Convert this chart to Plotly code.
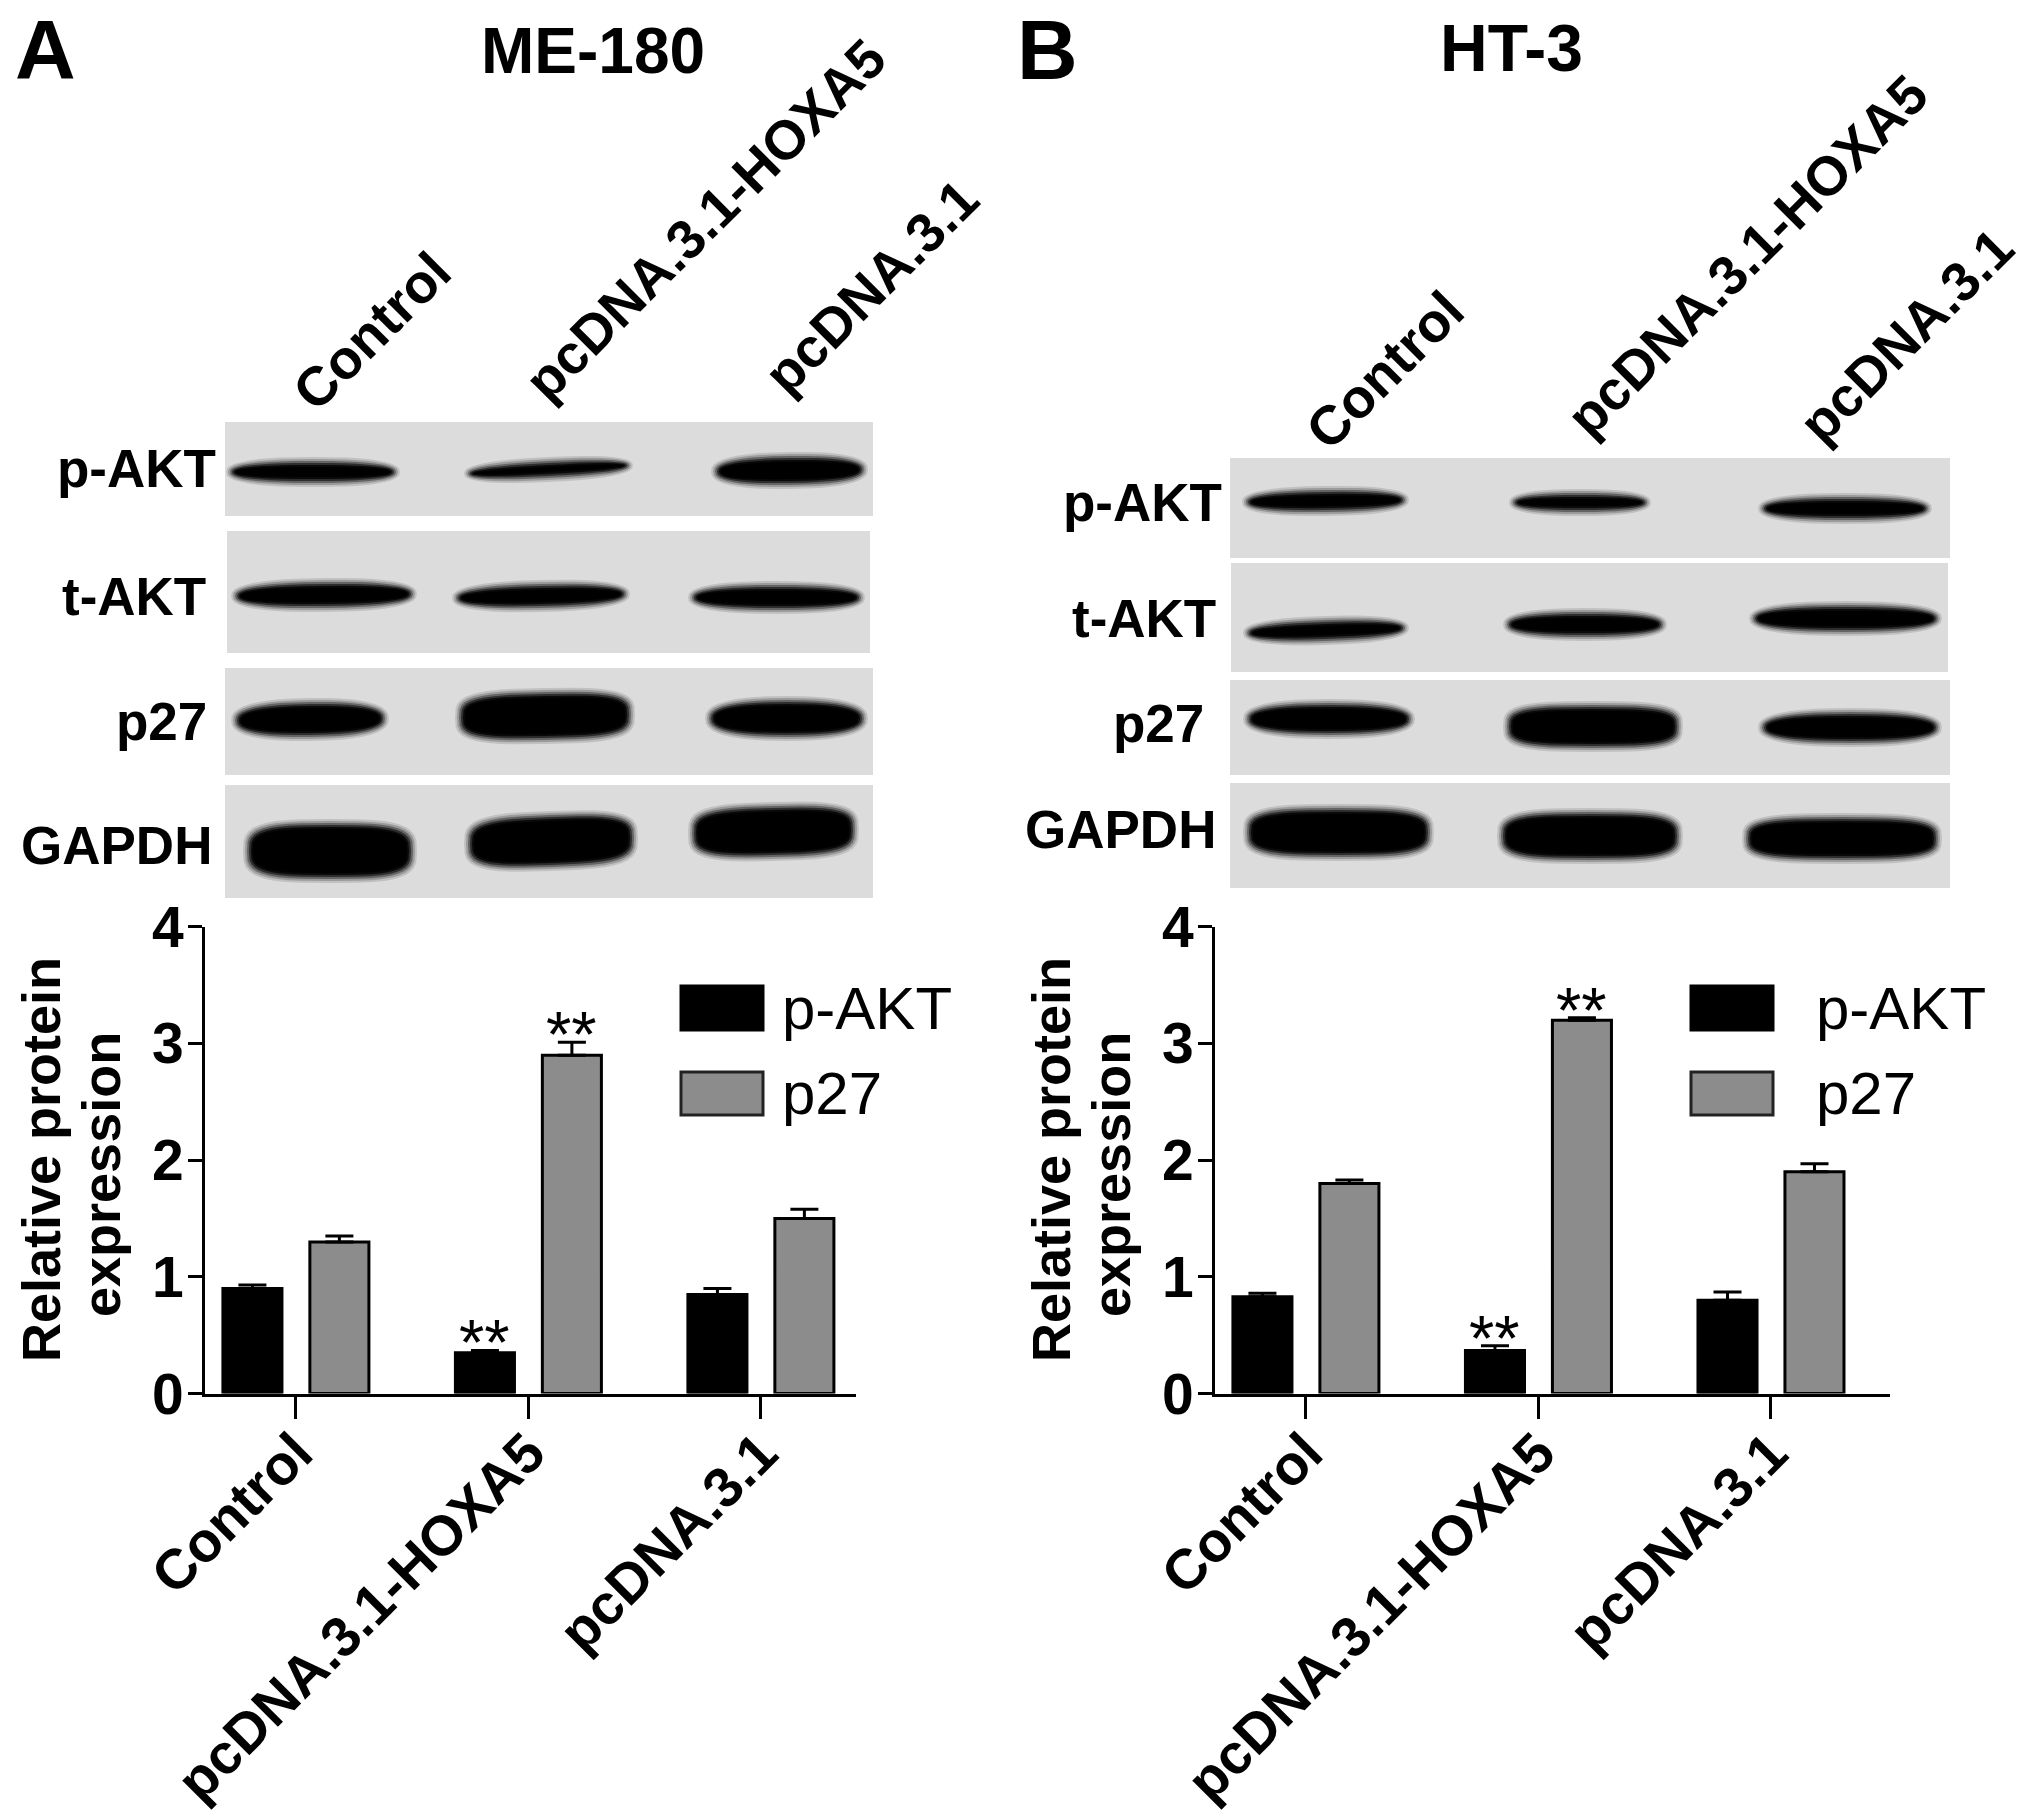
"""Western blots and relative protein expression bars for ME-180 and HT-3."""

import numpy as np
import plotly.graph_objects as go

WIDTH = 2031
HEIGHT = 1818
FONT = "Liberation Sans"

CATEGORIES = ["Control", "pcDNA.3.1-HOXA5", "pcDNA.3.1"]
Y_TICKS = [0, 1, 2, 3, 4]
SERIES = ["p-AKT", "p27"]
BLOT_ROWS = ["p-AKT", "t-AKT", "p27", "GAPDH"]

PAKT_A = [0.90, 0.35, 0.85]
PAKT_A_ERR = [0.03, 0.02, 0.05]
P27_A = [1.30, 2.90, 1.50]
P27_A_ERR = [0.05, 0.11, 0.08]

PAKT_B = [0.83, 0.37, 0.80]
PAKT_B_ERR = [0.03, 0.04, 0.07]
P27_B = [1.80, 3.20, 1.90]
P27_B_ERR = [0.03, 0.02, 0.07]

BLACK = "#000000"
GRAY = "#8c8c8c"
BLOT_BG = "#dcdcdc"

# blot artwork, in page pixels: membrane boxes and bands (x0, x1, y0, y1, tilt)
BOXES_A = [(225, 873, 422, 516), (227, 870, 531, 653), (225, 873, 668, 775), (225, 873, 785, 898)]
BOXES_B = [(1230, 1950, 458, 558), (1231, 1948, 563, 672), (1230, 1950, 680, 775), (1230, 1950, 783, 888)]
BANDS_A = [
    [(230, 396, 461, 483, 0), (468, 629, 461, 478, -8), (715, 864, 456, 485, -2)],
    [(235, 413, 582, 608, -2), (456, 626, 584, 608, -4), (692, 861, 585, 610, 0)],
    [(235, 385, 702, 737, -2), (459, 631, 692, 740, -3), (709, 864, 700, 737, 0)],
    [(247, 413, 823, 879, 0), (468, 634, 815, 867, -6), (692, 855, 806, 857, -4)],
]
BANDS_B = [
    [(1246, 1405, 490, 512, -2), (1513, 1647, 493, 512, 0), (1762, 1928, 497, 520, 0)],
    [(1247, 1405, 620, 641, -5), (1507, 1663, 612, 637, 0), (1753, 1938, 605, 632, 0)],
    [(1247, 1411, 703, 735, 0), (1507, 1679, 705, 748, 0), (1762, 1938, 712, 743, 0)],
    [(1247, 1430, 808, 857, 0), (1501, 1679, 812, 860, 0), (1746, 1938, 817, 860, 0)],
]


def px(x):
    return x / WIDTH


def py(y):
    return 1 - y / HEIGHT


def band_path(x0, x1, y0, y1, tilt, power):
    """Rounded lens outline as an SVG path in paper coordinates."""

    t = np.linspace(0, 2 * np.pi, 40, endpoint=False)
    cx, cy = (x0 + x1) / 2, (y0 + y1) / 2
    rx, ry = (x1 - x0) / 2, (y1 - y0) / 2
    u = np.sign(np.cos(t)) * np.abs(np.cos(t)) ** (2 / power)
    v = np.sign(np.sin(t)) * np.abs(np.sin(t)) ** (2 / power)
    xs = cx + rx * u
    ys = cy + ry * v + tilt * u / 2
    points = [f"{px(a):.5f},{py(b):.5f}" for a, b in zip(xs, ys)]
    return "M" + "L".join(points) + "Z"


def add_blot(fig, boxes, bands):
    for box in boxes:
        fig.add_shape(
            type="rect", xref="paper", yref="paper", layer="below",
            x0=px(box[0]), x1=px(box[1]), y0=py(box[3]), y1=py(box[2]),
            fillcolor=BLOT_BG, line=dict(width=0),
        )
    # stacked translucent outlines give the soft edge of a film band
    for row in bands:
        for x0, x1, y0, y1, tilt in row:
            power = 3.4 if y1 - y0 > 40 else 2.5
            for grow, alpha in [(4, 0.12), (2, 0.2), (0, 0.35), (-2, 0.55), (-4, 0.8), (-6, 1)]:
                fig.add_shape(
                    type="path", xref="paper", yref="paper", layer="below",
                    path=band_path(x0 - grow, x1 + grow, y0 - grow, y1 + grow, tilt, power),
                    fillcolor=f"rgba(0,0,0,{alpha})", line=dict(width=0),
                )


def add_text(fig, text, x, y, size, bold=True, xanchor="center", angle=0):
    fig.add_annotation(
        text=text, x=px(x), y=py(y), xref="paper", yref="paper", showarrow=False,
        xanchor=xanchor, yanchor="middle", textangle=angle,
        font=dict(family=FONT, size=size, color="black", weight=700 if bold else 400),
    )


def add_bars(fig, xaxis, yaxis, pakt, pakt_err, p27, p27_err):
    for name, values, errors, color in [(SERIES[0], pakt, pakt_err, BLACK), (SERIES[1], p27, p27_err, GRAY)]:
        fig.add_bar(
            name=name, x=CATEGORIES, y=values, xaxis=xaxis, yaxis=yaxis, showlegend=False,
            marker=dict(color=color, line=dict(color="black", width=3)),
            error_y=dict(type="data", array=errors, arrayminus=[0, 0, 0], symmetric=False, color="black", thickness=3, width=14),
        )


def add_stars(fig, xref, yref, top_pakt, top_p27):
    for offset, top in [(-0.187, top_pakt), (0.187, top_p27)]:
        fig.add_annotation(
            text="**", x=1 + offset, y=top, xref=xref, yref=yref, showarrow=False,
            yanchor="bottom", yshift=-31, font=dict(family=FONT, size=65, color="black"),
        )


def add_legend(fig, x0, x1, text_x):
    for name, y0, y1, color, line in [(SERIES[0], 986, 1030, BLACK, BLACK), (SERIES[1], 1072, 1115, GRAY, "#222222")]:
        fig.add_shape(
            type="rect", xref="paper", yref="paper", x0=px(x0), x1=px(x1), y0=py(y1), y1=py(y0),
            fillcolor=color, line=dict(color=line, width=3),
        )
        add_text(fig, name, text_x, (y0 + y1) / 2, 60, bold=False, xanchor="left")


def axis_styles(x_left, x_right):
    x_style = dict(
        domain=[px(x_left), px(x_right)], type="category", automargin=False,
        categoryorder="array", categoryarray=CATEGORIES, showline=True, linecolor="black", linewidth=3,
        ticks="outside", ticklen=22, tickwidth=3, tickcolor="black", tickangle=-45, ticklabelstandoff=-21,
        tickfont=dict(family=FONT, size=56, color="black", weight=700), showgrid=False, zeroline=False,
    )
    y_style = dict(
        domain=[py(1393.6), py(926.8)], range=[0, 4], tickvals=Y_TICKS, showline=True, linecolor="black",
        automargin=False, linewidth=3, ticks="outside", ticklen=14, tickwidth=3, tickcolor="black",
        ticklabelstandoff=-7, tickfont=dict(family=FONT, size=57, color="black", weight=700),
        showgrid=False, zeroline=False,
    )
    return x_style, y_style


fig = go.Figure()

add_blot(fig, BOXES_A, BANDS_A)
add_blot(fig, BOXES_B, BANDS_B)

add_bars(fig, "x", "y", PAKT_A, PAKT_A_ERR, P27_A, P27_A_ERR)
add_bars(fig, "x2", "y2", PAKT_B, PAKT_B_ERR, P27_B, P27_B_ERR)

add_stars(fig, "x", "y", PAKT_A[1] + PAKT_A_ERR[1], P27_A[1] + P27_A_ERR[1])
add_stars(fig, "x2", "y2", PAKT_B[1] + PAKT_B_ERR[1], P27_B[1] + P27_B_ERR[1])

add_legend(fig, 681, 763, 780)
add_legend(fig, 1691, 1773, 1814)

add_text(fig, "A", 45, 50, 84)
add_text(fig, "B", 1047, 50, 84)
add_text(fig, "ME-180", 593, 51, 64)
add_text(fig, "HT-3", 1511, 48, 66)

for label, x, y in zip(CATEGORIES, [372, 705, 871], [331, 220, 287]):
    add_text(fig, label, x, y, 55, angle=-45)
for label, x, y in zip(CATEGORIES, [1385, 1747, 1906], [370, 256, 336]):
    add_text(fig, label, x, y, 55, angle=-45)

for label, x, y in zip(BLOT_ROWS, [218, 208, 209, 214], [468, 596, 721, 845]):
    add_text(fig, label, x, y, 53, xanchor="right")
for label, x, y in zip(BLOT_ROWS, [1224, 1218, 1206, 1218], [502, 618, 723, 830]):
    add_text(fig, label, x, y, 53, xanchor="right")

for x_first, x_second in [(41, 101), (1051, 1111)]:
    add_text(fig, "Relative protein", x_first, 1160, 54, angle=-90)
    add_text(fig, "expression", x_second, 1175, 54, angle=-90)

x_a, y_a = axis_styles(205, 856)
x_b, y_b = axis_styles(1215, 1890)
x_a["range"] = [-0.391, 2.409]
x_b["range"] = [-0.391, (1890 - 1306) / 232.5]
fig.update_layout(
    width=WIDTH,
    height=HEIGHT,
    margin=dict(l=0, r=0, t=0, b=0, autoexpand=False),
    paper_bgcolor="white",
    plot_bgcolor="white",
    barmode="group",
    bargap=0.252,
    bargroupgap=0.321,
    xaxis=dict(x_a, anchor="y"),
    yaxis=dict(y_a, anchor="x"),
    xaxis2=dict(x_b, anchor="y2"),
    yaxis2=dict(y_b, anchor="x2"),
)

fig.write_html("out.html", config=dict(displayModeBar=False), post_script="document.body.style.margin='0';")
